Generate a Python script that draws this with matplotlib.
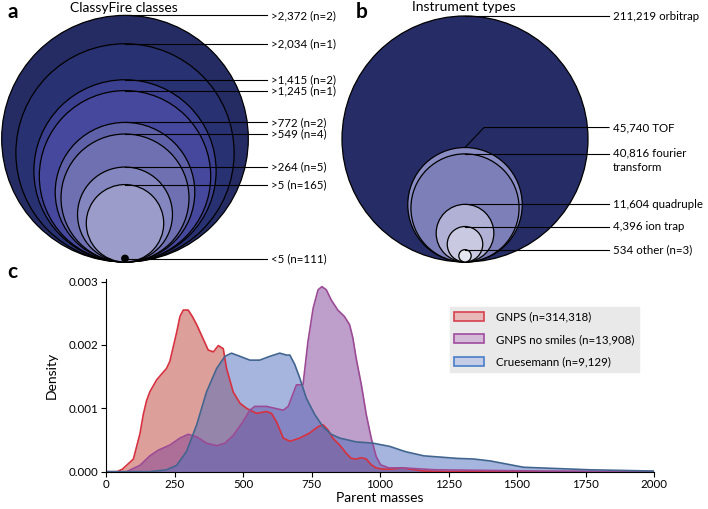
import matplotlib
matplotlib.use("Agg")
import matplotlib.pyplot as plt
from matplotlib.patches import Circle, Patch
import numpy as np

plt.rcParams['font.family'] = ['Lato', 'DejaVu Sans']

# ---------------- data ----------------
# Panel a: ClassyFire class thresholds and relative circle sizes
a_labels = [">2,372 (n=2)", ">2,034 (n=1)", ">1,415 (n=2)", ">1,245 (n=1)",
            ">772 (n=2)", ">549 (n=4)", ">264 (n=5)", ">5 (n=165)"]
a_rel_size = [1.0, 0.885, 0.739, 0.695, 0.566, 0.519, 0.385, 0.314]
a_small_label = "<5 (n=111)"

# Panel b: instrument types (counts)
b_counts = [211219, 45740, 40816, 11604, 4396, 534]
b_labels = ["211,219 orbitrap", "45,740 TOF", "40,816 fourier\ntransform",
            "11,604 quadruple", "4,396 ion trap", "534 other (n=3)"]

# Panel c: density of parent masses
gnps_x = [0, 40, 60, 100, 124, 136, 148, 160, 185, 221, 233, 258, 270, 282, 300, 315, 331,
          373, 392, 410, 428, 440, 464, 489, 513, 549, 586, 604, 622, 647, 671, 707,
          743, 774, 792, 810, 828, 853, 877, 895, 913, 932, 950, 968, 986, 1010,
          1040, 1083, 1111, 1160, 1250, 2000]
gnps_y = [0, 0, 0.00004, 0.0002, 0.0006, 0.0009, 0.00112, 0.00126, 0.00145, 0.00163, 0.00174,
          0.0022, 0.00245, 0.00255, 0.00255, 0.00245, 0.00232,
          0.00192, 0.00189, 0.00199, 0.00194, 0.00163, 0.00126, 0.00108, 0.001, 0.00092,
          0.00095, 0.00092, 0.00079, 0.00053, 0.00048, 0.00053,
          0.00061, 0.00071, 0.00074, 0.00066, 0.00053, 0.00042, 0.00029, 0.00021,
          0.0002, 0.00022, 0.0002, 0.00011, 0.00006, 0.00004,
          0.00004, 0.00006, 0.00004, 0.00001, 0, 0]

nosmiles_x = [0, 75, 124, 160, 191, 233, 270, 300, 331, 367, 404, 434, 464, 500, 525,
              543, 586, 616, 647, 665, 695, 719, 737, 756, 774, 788, 804, 822, 846,
              870, 889, 901, 913, 932, 950, 968, 986, 1002, 1032, 1083, 1200, 1400,
              1600, 2000]
nosmiles_y = [0, 0, 0.0001, 0.00025, 0.00034, 0.00042, 0.00053, 0.00059, 0.00055,
              0.00045, 0.00041, 0.00045, 0.00057, 0.00079, 0.00097, 0.00103, 0.00103,
              0.001, 0.00097, 0.00103, 0.00137, 0.00137, 0.00205, 0.00258, 0.00287,
              0.00292, 0.00287, 0.00271, 0.00255, 0.00245, 0.00232, 0.00211, 0.00179,
              0.00137, 0.0009, 0.00053, 0.00024, 0.00011, 0.00006, 0.00006, 0.00003,
              0.00002, 0.00001, 0]

cru_x = [0, 160, 221, 258, 294, 331, 367, 404, 434, 458, 489, 525, 561, 598, 634,
         659, 671, 689, 707, 731, 762, 792, 822, 853, 913, 974, 1035, 1083, 1099,
         1160, 1221, 1281, 1342, 1402, 1463, 1524, 1645, 1766, 1887, 2000]
cru_y = [0, 0, 0.00003, 0.0001, 0.00032, 0.00074, 0.00126, 0.00163, 0.00182, 0.00187,
         0.00182, 0.00176, 0.00176, 0.00182, 0.00187, 0.00184, 0.00184, 0.00169,
         0.00148, 0.00116, 0.0009, 0.00071, 0.00059, 0.00053, 0.00047, 0.00045,
         0.0004, 0.00033, 0.00031, 0.00025, 0.00023, 0.00021, 0.0002, 0.00017,
         0.00012, 0.00007, 0.00005, 0.00003, 0.00002, 0.00001]

series_labels = ["GNPS (n=314,318)", "GNPS no smiles (n=13,908)", "Cruesemann (n=9,129)"]

# ---------------- figure ----------------
W, H = 708, 509
fig = plt.figure(figsize=(W / 100, H / 100), dpi=100)

ov = fig.add_axes([0, 0, 1, 1])
ov.set_xlim(0, W)
ov.set_ylim(H, 0)
ov.axis('off')

fs = 8.3

# Panel a
a_colors = ['#252c64', '#283171', '#3b3f90', '#45489c', '#5f61a8', '#6e70b1',
            '#8486bf', '#9b9cc9']
a_cx, a_bottom, a_R = 125, 262, 123.3
a_line_end, a_text_x = 267, 271
for rel, col, lab in zip(a_rel_size, a_colors, a_labels):
    r = a_R * rel
    ov.add_patch(Circle((a_cx, a_bottom - r), r, facecolor=col, edgecolor='black', lw=0.9, zorder=2))
    top = a_bottom - 2 * r
    ov.plot([a_cx, a_line_end], [top, top], color='black', lw=0.8, zorder=3)
    ov.text(a_text_x, top, lab, fontsize=fs, va='center', ha='left', zorder=4)
dot_y = a_bottom - 3.5
ov.add_patch(Circle((a_cx, dot_y), 3.2, facecolor='black', edgecolor='black', zorder=5))
ov.plot([a_cx, a_line_end], [dot_y, dot_y], color='black', lw=0.8, zorder=3)
ov.text(a_text_x, dot_y, a_small_label, fontsize=fs, va='center', ha='left')
ov.text(124, 8, "ClassyFire classes", fontsize=10, ha='center', va='center', zorder=6)
ov.text(7, 12, "a", fontsize=15, fontweight='bold', ha='left', va='center')

# Panel b
b_colors = ['#262d66', '#8a8cc4', '#7d7fb8', '#b0b1d4', '#c9c9e1', '#e6e6f0']
b_cx, b_bottom, b_R = 465, 262, 123
b_line_end, b_text_x = 609, 613
bmax = max(b_counts)
for i, (cnt, col, lab) in enumerate(zip(b_counts, b_colors, b_labels)):
    r = b_R * np.sqrt(cnt / bmax)
    ov.add_patch(Circle((b_cx, b_bottom - r), r, facecolor=col, edgecolor='black', lw=0.9, zorder=2))
    top = b_bottom - 2 * r
    if i == 1:
        ly = top - 20
        ov.plot([b_cx, b_cx + 19, b_line_end], [top, ly, ly], color='black', lw=0.8, zorder=3)
        ov.text(b_text_x, ly, lab, fontsize=fs, va='center', ha='left')
    elif i == 2:
        ov.plot([b_cx, b_line_end], [top, top], color='black', lw=0.8, zorder=3)
        ov.text(b_text_x, top - 6, lab, fontsize=fs, va='top', ha='left', linespacing=1.3)
    else:
        ov.plot([b_cx, b_line_end], [top, top], color='black', lw=0.8, zorder=3)
        ov.text(b_text_x, top, lab, fontsize=fs, va='center', ha='left')
ov.text(464, 7, "Instrument types", fontsize=10, ha='center', va='center', zorder=6)
ov.text(356, 12, "b", fontsize=15, fontweight='bold', ha='left', va='center')

ov.text(7, 272, "c", fontsize=15, fontweight='bold', ha='left', va='center')

# Panel c
axc = fig.add_axes([106 / W, 1 - 471.7 / H, (654 - 106) / W, (471.7 - 279) / H])
fill_cols = ['#bd4137', '#7f3f97', '#4f6dbd']
line_cols = ['#d7303f', '#9b4b96', '#41658f']
leg_edge = ['#d64050', '#a04a9e', '#4a7ec8']
leg_face = ['#e8b8b8', '#d4bcd8', '#c4cce6']
data = [(gnps_x, gnps_y), (nosmiles_x, nosmiles_y), (cru_x, cru_y)]
for (xs, ys), fc in zip(data, fill_cols):
    axc.fill_between(xs, ys, 0, color=fc, alpha=0.5, lw=0)
for (xs, ys), lc in zip(data, line_cols):
    axc.plot(xs, ys, color=lc, lw=1.2)

axc.set_xlim(0, 2000)
axc.set_ylim(0, 0.00304)
axc.set_xticks(np.arange(0, 2001, 250))
axc.set_yticks([0, 0.001, 0.002, 0.003])
axc.set_yticklabels(['0.000', '0.001', '0.002', '0.003'])
axc.spines['top'].set_visible(False)
axc.spines['right'].set_visible(False)
axc.tick_params(labelsize=fs, length=3.5, width=0.8, pad=2)
axc.set_xlabel("Parent masses", fontsize=10, labelpad=1)
axc.set_ylabel("Density", fontsize=10, labelpad=8)

handles = [Patch(facecolor=f, edgecolor=e, lw=1.2) for f, e in zip(leg_face, leg_edge)]
leg = axc.legend(handles, series_labels, loc='upper right', bbox_to_anchor=(0.9726, 0.856),
                 borderaxespad=0, fontsize=fs, frameon=True, fancybox=False,
                 facecolor='#e9e9e9', edgecolor='#e9e9e9', handlelength=2.6,
                 handleheight=0.8, borderpad=0.4, labelspacing=1.0, handletextpad=1.0)
leg.get_frame().set_alpha(1)

fig.savefig("out.png", dpi=100)
